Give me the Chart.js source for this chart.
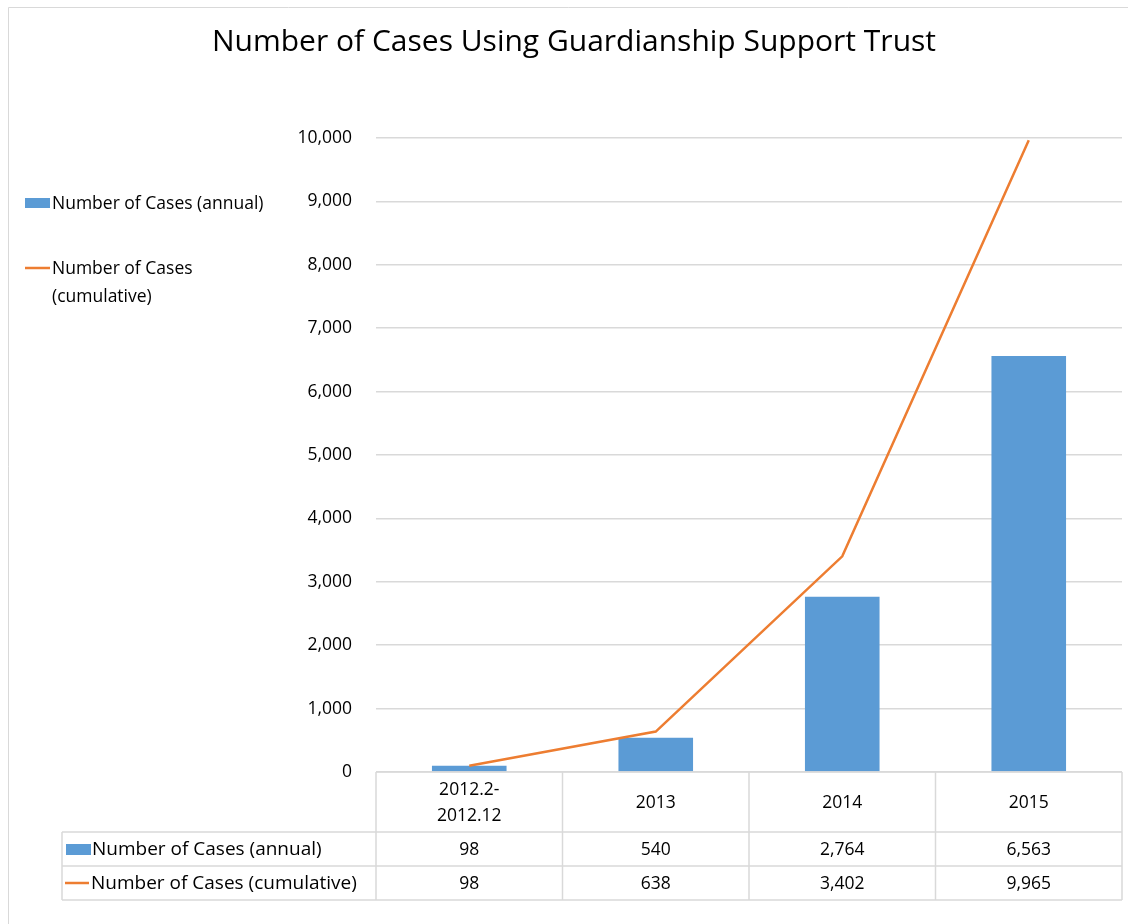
<!DOCTYPE html>
<html>
<head>
<meta charset="utf-8">
<script src="https://cdn.jsdelivr.net/npm/chart.js@4.4.1/dist/chart.umd.min.js"></script>
<style>
html,body{margin:0;padding:0;background:#fff;}
#wrap{width:1128px;height:924px;position:relative;}
</style>
</head>
<body>
<div id="wrap"><canvas id="c" width="1128" height="924"></canvas></div>
<script>
const chartTitle = "Number of Cases Using Guardianship Support Trust";
const categories = [["2012.2-", "2012.12"], "2013", "2014", "2015"];
const seriesNames = ["Number of Cases (annual)", "Number of Cases (cumulative)"];
const legendLines = [["Number of Cases (annual)"], ["Number of Cases", "(cumulative)"]];
const annualCases = [98, 540, 2764, 6563];
const cumulativeCases = [98, 638, 3402, 9965];
const yTicks = [0, 1000, 2000, 3000, 4000, 5000, 6000, 7000, 8000, 9000, 10000];

const BLUE = "#5B9BD5";
const ORANGE = "#ED7D31";
const GRID = "#D9D9D9";
const FONT = "'Open Sans', 'Noto Sans', sans-serif";

const fmt = v => v.toLocaleString("en-US");

const decorPlugin = {
  id: "decor",
  beforeDraw(chart) {
    const ctx = chart.ctx;
    ctx.save();
    ctx.fillStyle = "#fff";
    ctx.fillRect(0, 0, chart.width, chart.height);
    ctx.strokeStyle = "#D9D9D9";
    ctx.lineWidth = 1;
    ctx.beginPath();
    ctx.moveTo(8.5, chart.height + 2);
    ctx.lineTo(8.5, 7.5);
    ctx.lineTo(chart.width + 2, 7.5);
    ctx.stroke();
    ctx.restore();
  },
  afterDraw(chart) {
    const ctx = chart.ctx;
    const area = chart.chartArea;
    const xs = chart.scales.x;
    ctx.save();
    // title
    ctx.fillStyle = "#000";
    ctx.font = "30px " + FONT;
    ctx.textAlign = "center";
    ctx.textBaseline = "middle";
    ctx.fillText(chartTitle, 574, 42);

    // left legend
    ctx.font = "17.5px " + FONT;
    ctx.textAlign = "left";
    ctx.fillStyle = BLUE;
    ctx.fillRect(25, 198, 25, 10);
    ctx.fillStyle = "#000";
    ctx.fillText(legendLines[0][0], 52, 204);
    ctx.strokeStyle = ORANGE;
    ctx.lineWidth = 2.5;
    ctx.beginPath();
    ctx.moveTo(25, 268); ctx.lineTo(50, 268);
    ctx.stroke();
    ctx.fillStyle = "#000";
    legendLines[1].forEach((t, i) => ctx.fillText(t, 52, 269 + i * 28));

    // data table
    const top = area.bottom;
    const hdrBottom = top + 60;
    const r1 = hdrBottom + 34;
    const r2 = r1 + 34;
    const left = area.left;
    const right = area.right;
    const n = categories.length;
    const colW = (right - left) / n;
    const labelLeft = 62;

    ctx.strokeStyle = GRID;
    ctx.lineWidth = 1.5;
    ctx.beginPath();
    ctx.moveTo(left, top); ctx.lineTo(right, top);
    ctx.moveTo(labelLeft, hdrBottom); ctx.lineTo(right, hdrBottom);
    ctx.moveTo(labelLeft, r1); ctx.lineTo(right, r1);
    ctx.moveTo(labelLeft, r2); ctx.lineTo(right, r2);
    ctx.moveTo(labelLeft, hdrBottom); ctx.lineTo(labelLeft, r2);
    for (let i = 0; i <= n; i++) {
      const x = left + i * colW;
      ctx.moveTo(x, top); ctx.lineTo(x, r2);
    }
    ctx.stroke();

    ctx.fillStyle = "#000";
    ctx.font = "17.5px " + FONT;
    ctx.textAlign = "center";
    ctx.textBaseline = "middle";
    categories.forEach((c, i) => {
      const cx = xs.getPixelForValue(i);
      if (Array.isArray(c)) {
        c.forEach((t, j) => ctx.fillText(t, cx, top + 18 + j * 26));
      } else {
        ctx.fillText(c, cx, top + 31);
      }
      ctx.fillText(fmt(annualCases[i]), cx, hdrBottom + 18);
      ctx.fillText(fmt(cumulativeCases[i]), cx, r1 + 18);
    });

    // row headers
    ctx.font = "19px " + FONT;
    ctx.textAlign = "left";
    ctx.fillStyle = BLUE;
    ctx.fillRect(66, hdrBottom + 12, 25, 11);
    ctx.fillStyle = "#000";
    ctx.fillText(seriesNames[0], 92, hdrBottom + 18);
    ctx.strokeStyle = ORANGE;
    ctx.lineWidth = 2.5;
    ctx.beginPath();
    ctx.moveTo(65, r1 + 17); ctx.lineTo(89, r1 + 17);
    ctx.stroke();
    ctx.fillText(seriesNames[1], 91, r1 + 18);
    ctx.restore();
  }
};

new Chart(document.getElementById("c"), {
  type: "bar",
  data: {
    labels: categories.map(c => Array.isArray(c) ? c.join("") : c),
    datasets: [
      {
        type: "line",
        label: seriesNames[1],
        data: cumulativeCases,
        borderColor: ORANGE,
        backgroundColor: ORANGE,
        borderWidth: 2.5,
        pointRadius: 0,
        tension: 0,
        order: 0
      },
      {
        type: "bar",
        label: seriesNames[0],
        data: annualCases,
        backgroundColor: BLUE,
        borderWidth: 0,
        barPercentage: 0.4,
        categoryPercentage: 1.0,
        order: 1
      }
    ]
  },
  options: {
    responsive: false,
    animation: false,
    devicePixelRatio: 1,
    layout: { padding: { left: 276, right: 6, top: 138, bottom: 152 } },
    plugins: {
      legend: { display: false },
      title: { display: false },
      tooltip: { enabled: false }
    },
    scales: {
      x: { display: false, offset: true, grid: { display: false } },
      y: {
        min: 0,
        max: 10000,
        afterFit(scale) { scale.width = 100; },
        afterBuildTicks(scale) { scale.ticks = yTicks.map(v => ({ value: v })); },
        border: { display: false },
        grid: { color: GRID, lineWidth: 1.5, drawTicks: false },
        ticks: {
          padding: 24,
          color: "#000",
          font: { family: FONT, size: 17.5 },
          callback: v => fmt(v)
        }
      }
    }
  },
  plugins: [decorPlugin]
});
</script>
</body>
</html>
